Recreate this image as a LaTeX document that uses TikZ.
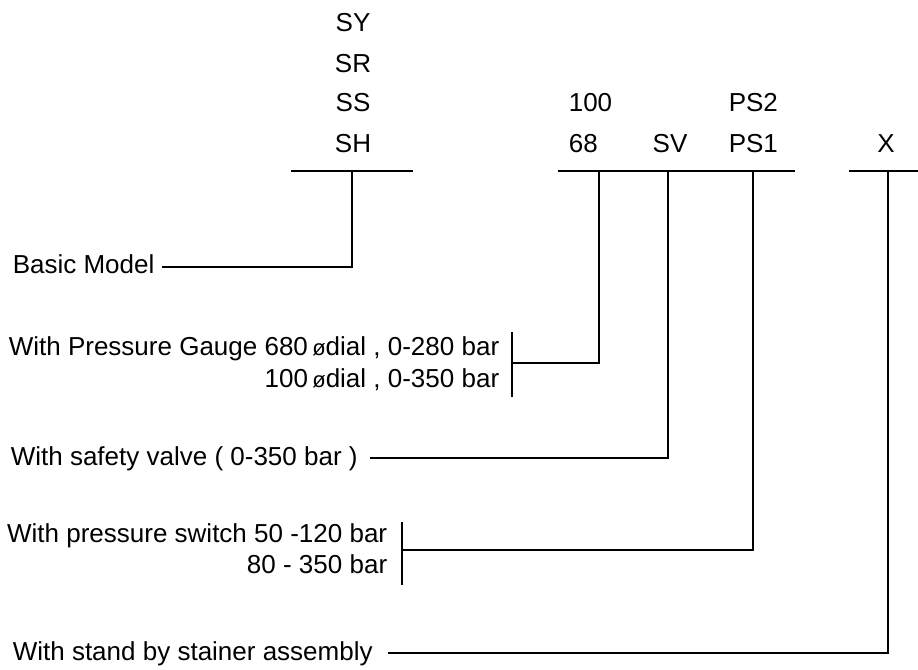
\documentclass[tikz,border=0pt]{standalone}
\usepackage{fontspec}
\setmainfont{Liberation Sans}
\newcommand{\dia}{{\fontsize{12.5}{12.5}\selectfont ø}}
\begin{document}
\begin{tikzpicture}[x=0.02cm, y=-0.02cm, line width=0.9pt,
  every node/.style={inner sep=0pt, font=\fontsize{14.8}{17}\selectfont}]
\useasboundingbox (0,0) rectangle (918,669);
% code letters
\node[anchor=base] (sy) at (353,32) {SY};
\node[anchor=base] (sr) at (353,72) {SR};
\node[anchor=base] (ss) at (353,112) {SS};
\node[anchor=base] (sh) at (353,152) {SH};
\node[anchor=base west] (g100) at (568,112) {100};
\node[anchor=base west] (g68) at (568,152) {68};
\node[anchor=base] (sv) at (670,152) {SV};
\node[anchor=base west] (ps2) at (728,112) {PS2};
\node[anchor=base west] (ps1) at (728,152) {PS1};
\node[anchor=base] (xs) at (886,152) {X};
% bars
\coordinate (b1w) at (291,171);
\coordinate (b1e) at (413,171);
\coordinate (b2w) at (558,171);
\coordinate (b2e) at (795,171);
\coordinate (b3w) at (849,171);
\coordinate (b3e) at (918,171);
\draw (b1w) -- (b1e);
\draw (b2w) -- (b2e);
\draw (b3w) -- (b3e);
\coordinate (tbasic) at (352,171);
\coordinate (tgauge) at (599,171);
\coordinate (tvalve) at (668,171);
\coordinate (tswitch) at (753,171);
\coordinate (tstand) at (888,171);
% descriptions
\node[anchor=base west] (basic) at (12,273) {Basic Model};
\node[anchor=base east] (gauge1) at (500,355) {With Pressure Gauge 680\,\dia dial , 0-280 bar};
\node[anchor=base east] (gauge2) at (500,387) {100\,\dia dial , 0-350 bar};
\node[anchor=base west] (valve) at (10,465) {With safety valve ( 0-350 bar )};
\node[anchor=base east] (switch1) at (388,542) {With pressure switch 50 -120 bar};
\node[anchor=base east] (switch2) at (388,573) {80 - 350 bar};
\node[anchor=base west] (stand) at (12,660) {With stand by stainer assembly};
% leaders
\coordinate (lbasic) at (162,267);
\coordinate (kgt) at (512,332);
\coordinate (kgb) at (512,397);
\coordinate (lgauge) at (512,363);
\coordinate (lvalve) at (370,458);
\coordinate (kst) at (402,522);
\coordinate (ksb) at (402,585);
\coordinate (lswitch) at (402,550);
\coordinate (lstand) at (388,653);
\draw (lbasic) -| (tbasic);
\draw (kgt) -- (kgb);
\draw (lgauge) -| (tgauge);
\draw (lvalve) -| (tvalve);
\draw (kst) -- (ksb);
\draw (lswitch) -| (tswitch);
\draw (lstand) -| (tstand);
\end{tikzpicture}
\end{document}
